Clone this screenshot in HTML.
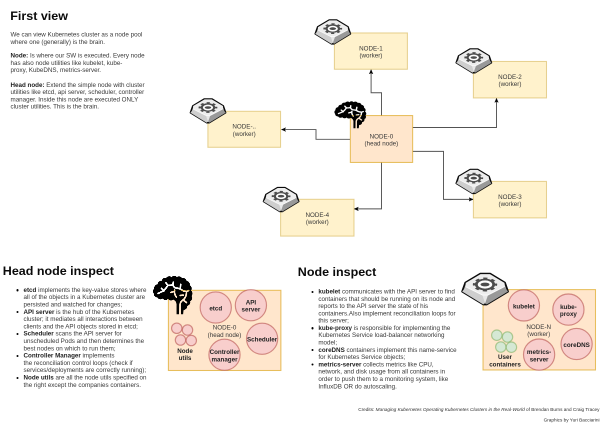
<!DOCTYPE html>
<html lang="en"><head><meta charset="utf-8"><title>Kubernetes cluster: first view</title>
<style>
html,body{margin:0;padding:0;background:#fff;}
body{width:600px;height:427px;overflow:hidden;position:relative;font-family:"Liberation Sans",sans-serif;color:#000;}
/* every panel is laid out at 2x and scaled down by half so that thin strokes and small text are smoothed */
.ly{position:absolute;overflow:hidden;transform:scale(0.5);transform-origin:0 0;will-change:transform;}
.ly>svg{position:absolute;left:0;top:0;}
.t{position:absolute;white-space:nowrap;font-size:12.5px;line-height:14.5px;height:14.5px;color:#383838;}
.t b{color:#1e1e1e;}
.h{position:absolute;white-space:nowrap;font-size:25px;line-height:28px;font-weight:bold;color:#0a0a0a;transform:scaleY(0.955);transform-origin:0 22.2px;}
.c{position:absolute;white-space:nowrap;font-size:9.4px;line-height:12px;color:#2e2e2e;right:1px;}
.b{position:absolute;width:4.2px;height:4.2px;border-radius:50%;background:#000;}
text{font-family:"Liberation Sans",sans-serif;}
</style></head><body>
<svg width="0" height="0" style="position:absolute;left:0;top:0" aria-hidden="true"><defs>
<marker id="ar" viewBox="0 0 10 10" refX="10" refY="5" markerWidth="4.4" markerHeight="4.4" markerUnits="userSpaceOnUse" orient="auto"><path d="M0,0.6 L10,5 L0,9.4 L2.4,5 Z" fill="#000" stroke="#000" stroke-width="0.6" stroke-linejoin="miter"/></marker>
<g id="gs">
<polygon points="39.5,1 60.5,1 92,20 98.5,39 53,66.5 46,66.5 0.8,39 7.5,20" fill="#bdbdbd" stroke="#0a0a0a" stroke-width="4.2" stroke-linejoin="round"/>
<polygon points="0.8,39 8.5,29.5 44,47.5 49.7,62 46,66.5" fill="#cecece"/>
<polygon points="98.5,39 91,29 55.5,47.5 49.7,62 53,66.5" fill="#999"/>
<polygon points="44,47.5 55.5,47.5 49.7,64" fill="#e8e8e8"/>
<polygon points="40,2 60,2 91,20.5 91.5,29 55.5,47.5 44,47.5 8,29.5 8.5,20.5" fill="#ededed"/>
<polygon points="8,29.5 44,47.5 55.5,47.5 91.5,29 91.5,27 55.5,45.2 44,45.2 8,27.5" fill="#fafafa"/>
<g transform="translate(49.5,24.6) scale(1,0.57)" fill="none" stroke="#4c4c4c">
<circle r="15.5" fill="#fdfdfd" stroke="none"/>
<circle r="22.8" stroke-width="6.4" stroke-dasharray="8.954 8.954" stroke-dashoffset="4.477"/>
<circle r="17.3" stroke-width="6.3"/>
<ellipse rx="9" ry="6.4" fill="#4c4c4c" stroke="none"/>
</g>
</g>
<g id="gb">
<polygon points="39.5,1 60.5,1 92,20 98.5,39 53,66.5 46,66.5 0.8,39 7.5,20" fill="#bdbdbd" stroke="#0a0a0a" stroke-width="3.8" stroke-linejoin="round"/>
<polygon points="0.8,39 8.5,29.5 44,47.5 49.7,62 46,66.5" fill="#cecece"/>
<polygon points="98.5,39 91,29 55.5,47.5 49.7,62 53,66.5" fill="#999"/>
<polygon points="44,47.5 55.5,47.5 49.7,64" fill="#e8e8e8"/>
<polygon points="40,2 60,2 91,20.5 91.5,29 55.5,47.5 44,47.5 8,29.5 8.5,20.5" fill="#ededed"/>
<polygon points="8,29.5 44,47.5 55.5,47.5 91.5,29 91.5,27 55.5,45.2 44,45.2 8,27.5" fill="#fafafa"/>
<g transform="translate(49.5,24.0) scale(1,0.57)" fill="none" stroke="#4c4c4c">
<circle r="15.5" fill="#fdfdfd" stroke="none"/>
<circle r="23.2" stroke-width="5.4" stroke-dasharray="9.111 9.111" stroke-dashoffset="4.555"/>
<circle r="18.5" stroke-width="6.2"/>
<ellipse rx="9.6" ry="7.2" fill="#4c4c4c" stroke="none"/>
</g>
</g>
<mask id="bsm" maskUnits="userSpaceOnUse" x="-8" y="-8" width="116" height="110">
<rect x="-8" y="-8" width="116" height="110" fill="#fff"/>
<g fill="none" stroke="#000" stroke-width="4.6" stroke-linecap="round" stroke-linejoin="round">
<path d="M12.7,42.3 L26.6,35.9 Q33,30 38,22 Q44,22 50.6,20.8 Q53,26 57,28.4 Q64,29 69.6,30.9 Q74,34 78.5,35.9 L86.1,37.2 L91.5,35"/>
<path d="M21.5,29.6 L27.8,35.9 M32.9,15.7 L38,22 M51.9,14 L50.6,20.8 M71.2,19.5 L69.3,30.6"/>
<path d="M45.6,39.9 L54.4,37.2 M55.4,34 Q53.5,43.5 59.8,51.5 M69.6,47.3 L77.2,46.4 M86.1,37.2 Q85.5,47 83.3,50.5 Q81,56 77.2,58.7 Q70,63 69.3,70 L69.1,96 M77.2,58.7 L86,65.3"/>
</g></mask>
<g id="bs"><path mask="url(#bsm)" d="M60.3,94.7 L60.3,69 Q59.5,62 52.0,57.5 A9.0,9.0 0 0 1 38.5,56.1 A9.0,9.0 0 0 1 24.8,55.2 A9.0,9.0 0 0 1 11.3,52.5 A9.0,9.0 0 0 1 2.0,43.1 A9.0,9.0 0 0 1 3.0,29.9 A9.0,9.0 0 0 1 11.6,19.3 A9.0,9.0 0 0 1 22.2,10.6 A9.0,9.0 0 0 1 33.7,3.3 A9.0,9.0 0 0 1 47.3,1.4 A9.0,9.0 0 0 1 61.0,1.0 A9.0,9.0 0 0 1 74.3,4.1 A9.0,9.0 0 0 1 86.1,10.9 A9.0,9.0 0 0 1 94.3,21.8 A9.0,9.0 0 0 1 97.4,35.1 A9.0,9.0 0 0 1 98.8,48.7 A9.0,9.0 0 0 1 95.3,61.9 A9.0,9.0 0 0 1 87.7,73.3 A9.0,9.0 0 0 1 78.5,83.4 L77.2,94.7 Z" fill="#000"/></g>
<mask id="bbm" maskUnits="userSpaceOnUse" x="-8" y="-8" width="116" height="110">
<rect x="-8" y="-8" width="116" height="110" fill="#fff"/>
<g fill="none" stroke="#000" stroke-width="4.3" stroke-linecap="round" stroke-linejoin="round">
<path d="M12.7,42.3 L26.6,35.9 Q33,30 38,22 Q44,22 50.6,20.8 Q53,26 57,28.4 Q64,29 69.6,30.9 Q74,34 78.5,35.9 L86.1,37.2 L91.5,35"/>
<path d="M21.5,29.6 L27.8,35.9 M32.9,15.7 L38,22 M51.9,14 L50.6,20.8 M71.2,19.5 L69.3,30.6"/>
<path d="M45.6,39.9 L54.4,37.2 M55.4,34 Q53.5,43.5 59.8,51.5 M69.6,47.3 L77.2,46.4 M86.1,37.2 Q85.5,47 83.3,50.5 Q81,56 77.2,58.7 Q70,63 69.3,70 L69.1,96 M77.2,58.7 L86,65.3"/>
</g></mask>
<g id="bb"><path mask="url(#bbm)" d="M60.3,94.7 L60.3,69 Q59.5,62 52.0,57.5 A9.0,9.0 0 0 1 38.5,56.1 A9.0,9.0 0 0 1 24.8,55.2 A9.0,9.0 0 0 1 11.3,52.5 A9.0,9.0 0 0 1 2.0,43.1 A9.0,9.0 0 0 1 3.0,29.9 A9.0,9.0 0 0 1 11.6,19.3 A9.0,9.0 0 0 1 22.2,10.6 A9.0,9.0 0 0 1 33.7,3.3 A9.0,9.0 0 0 1 47.3,1.4 A9.0,9.0 0 0 1 61.0,1.0 A9.0,9.0 0 0 1 74.3,4.1 A9.0,9.0 0 0 1 86.1,10.9 A9.0,9.0 0 0 1 94.3,21.8 A9.0,9.0 0 0 1 97.4,35.1 A9.0,9.0 0 0 1 98.8,48.7 A9.0,9.0 0 0 1 95.3,61.9 A9.0,9.0 0 0 1 87.7,73.3 A9.0,9.0 0 0 1 78.5,83.4 L77.2,94.7 Z" fill="#000"/></g>
</defs></svg>
<div class="ly" id="T1" style="left:0px;top:0px;width:370px;height:500px">
<div class="h" style="left:20.60px;top:16.80px">First view</div>
<div class="t" style="left:21.00px;top:62.10px">We can view Kubernetes cluster as a node pool</div>
<div class="t" style="left:21.00px;top:76.60px">where one (generally) is the brain.</div>
<div class="t" style="left:21.00px;top:104.10px"><b>Node:</b> Is where our SW is executed. Every node</div>
<div class="t" style="left:21.00px;top:118.60px">has also node utilities like kubelet, kube-</div>
<div class="t" style="left:21.00px;top:133.10px">proxy, KubeDNS, metrics-server.</div>
<div class="t" style="left:21.00px;top:162.60px"><b>Head node:</b> Extend the simple node with cluster</div>
<div class="t" style="left:21.00px;top:177.10px">utilities like etcd, api server, scheduler, controller</div>
<div class="t" style="left:21.00px;top:191.60px">manager. Inside this node are executed ONLY</div>
<div class="t" style="left:21.00px;top:206.10px">cluster utilities. This is the brain.</div>
</div>
<div class="ly" id="T2" style="left:185px;top:0px;width:234px;height:500px">
<svg width="234" height="500" viewBox="185 0 117 250">
<path d="M350,139.3 H316 V129.55 H281.4" fill="none" stroke="#000" stroke-width="0.95" stroke-opacity="0.68" marker-end="url(#ar)"/>
<rect x="207.9" y="111.3" width="72.65" height="36.0" fill="#fff2cc" stroke="#d6b656" stroke-width="1.05" stroke-opacity="0.6"/>
<rect x="280.6" y="199.3" width="73.4" height="36.8" fill="#fff2cc" stroke="#d6b656" stroke-width="1.05" stroke-opacity="0.6"/>
<use href="#gs" transform="translate(190.10,98.60) scale(0.3610,0.3632)"/>
<text x="244.22500000000002" y="128.55" font-size="6.25" text-anchor="middle" fill="#383838">NODE-..</text>
<text x="244.22500000000002" y="135.80" font-size="6.25" text-anchor="middle" fill="#383838">(worker)</text>
<use href="#gs" transform="translate(263.20,187.30) scale(0.3610,0.3632)"/>
</svg>
</div>
<div class="ly" id="T3" style="left:302px;top:0px;width:510px;height:500px">
<svg width="510" height="500" viewBox="302 0 255 250">
<path d="M350,139.3 H316 V129.55 H281.4" fill="none" stroke="#000" stroke-width="0.95" stroke-opacity="0.68" marker-end="url(#ar)"/>
<path d="M381.5,115.5 V92.75 H371.1 V69.6" fill="none" stroke="#000" stroke-width="0.95" stroke-opacity="0.68" marker-end="url(#ar)"/>
<path d="M412.75,127.5 H496.5 V98.2" fill="none" stroke="#000" stroke-width="0.95" stroke-opacity="0.68" marker-end="url(#ar)"/>
<path d="M412.75,151.4 H443.5 V199.4 H473.2" fill="none" stroke="#000" stroke-width="0.95" stroke-opacity="0.68" marker-end="url(#ar)"/>
<path d="M381.5,162.5 V208.9 H354.1" fill="none" stroke="#000" stroke-width="0.95" stroke-opacity="0.68" marker-end="url(#ar)"/>
<rect x="334.4" y="32.95" width="73" height="36.3" fill="#fff2cc" stroke="#d6b656" stroke-width="1.05" stroke-opacity="0.6"/>
<rect x="473.4" y="61.45" width="73.1" height="36.5" fill="#fff2cc" stroke="#d6b656" stroke-width="1.05" stroke-opacity="0.6"/>
<rect x="473.4" y="181.4" width="73.1" height="36.5" fill="#fff2cc" stroke="#d6b656" stroke-width="1.05" stroke-opacity="0.6"/>
<rect x="280.6" y="199.3" width="73.4" height="36.8" fill="#fff2cc" stroke="#d6b656" stroke-width="1.05" stroke-opacity="0.6"/>
<use href="#gs" transform="translate(314.90,19.70) scale(0.3610,0.3632)"/>
<text x="370.9" y="50.35" font-size="6.25" text-anchor="middle" fill="#383838">NODE-1</text>
<text x="370.9" y="57.60" font-size="6.25" text-anchor="middle" fill="#383838">(worker)</text>
<use href="#gs" transform="translate(455.90,48.60) scale(0.3610,0.3632)"/>
<text x="509.95" y="78.95" font-size="6.25" text-anchor="middle" fill="#383838">NODE-2</text>
<text x="509.95" y="86.20" font-size="6.25" text-anchor="middle" fill="#383838">(worker)</text>
<use href="#gs" transform="translate(455.90,169.20) scale(0.3610,0.3632)"/>
<text x="509.95" y="198.90" font-size="6.25" text-anchor="middle" fill="#383838">NODE-3</text>
<text x="509.95" y="206.15" font-size="6.25" text-anchor="middle" fill="#383838">(worker)</text>
<text x="317.3" y="216.95" font-size="6.25" text-anchor="middle" fill="#383838">NODE-4</text>
<text x="317.3" y="224.20" font-size="6.25" text-anchor="middle" fill="#383838">(worker)</text>
<rect x="350.35" y="115.55" width="62.3" height="46.9" fill="#ffe6cc" stroke="#d79b00" stroke-width="1.05" stroke-opacity="0.6"/>
<text x="381.4" y="138.45" font-size="6.25" text-anchor="middle" fill="#383838">NODE-0</text>
<text x="381.4" y="145.70" font-size="6.25" text-anchor="middle" fill="#383838">(head node)</text>
<use href="#bs" transform="translate(334.50,101.80) scale(0.3140,0.2788)"/>
</svg>
</div>
<div class="ly" id="B1" style="left:0px;top:250px;width:300px;height:300px">
<div class="h" style="left:5.60px;top:27.20px">Head node inspect</div>
<div class="b" style="left:32.70px;top:78.40px"></div>
<div class="t" style="left:47.00px;top:72.90px"><b>etcd</b> implements the key-value stores where</div>
<div class="t" style="left:47.00px;top:87.49px">all of the objects in a Kubernetes cluster are</div>
<div class="t" style="left:47.00px;top:102.08px">persisted and watched for changes;</div>
<div class="b" style="left:32.70px;top:122.18px"></div>
<div class="t" style="left:47.00px;top:116.68px"><b>API server</b> is the hub of the Kubernetes</div>
<div class="t" style="left:47.00px;top:131.27px">cluster; it mediates all interactions between</div>
<div class="t" style="left:47.00px;top:145.86px">clients and the API objects stored in etcd;</div>
<div class="b" style="left:32.70px;top:165.95px"></div>
<div class="t" style="left:47.00px;top:160.45px"><b>Scheduler</b> scans the API server for</div>
<div class="t" style="left:47.00px;top:175.04px">unscheduled Pods and then determines the</div>
<div class="t" style="left:47.00px;top:189.64px">best nodes on which to run them;</div>
<div class="b" style="left:32.70px;top:209.73px"></div>
<div class="t" style="left:47.00px;top:204.23px"><b>Controller Manager</b> implements</div>
<div class="t" style="left:47.00px;top:218.82px">the reconciliation control loops (check if</div>
<div class="t" style="left:47.00px;top:233.41px">services/deployments are correctly running);</div>
<div class="b" style="left:32.70px;top:253.50px"></div>
<div class="t" style="left:47.00px;top:248.00px"><b>Node utils</b> are all the node utils specified on</div>
<div class="t" style="left:47.00px;top:262.60px">the right except the companies containers.</div>
</div>
<div class="ly" id="B2" style="left:150px;top:250px;width:290px;height:300px">
<svg width="290" height="300" viewBox="150 250 145 150">
<rect x="168.4" y="290.3" width="112.5" height="80.2" fill="#ffe6cc" stroke="#d79b00" stroke-width="1.05" stroke-opacity="0.6"/>
<circle cx="215.75" cy="307.5" r="15.6" fill="#f8cecc" stroke="#b85450" stroke-width="1.15" stroke-opacity="0.62"/>
<text x="215.75" y="310.45" font-size="6.25" text-anchor="middle" fill="#222" font-weight="bold">etcd</text>
<circle cx="250.9" cy="305.25" r="15.6" fill="#f8cecc" stroke="#b85450" stroke-width="1.15" stroke-opacity="0.62"/>
<text x="250.9" y="304.45" font-size="6.25" text-anchor="middle" fill="#222" font-weight="bold">API</text>
<text x="250.9" y="311.70" font-size="6.25" text-anchor="middle" fill="#222" font-weight="bold">server</text>
<circle cx="262.1" cy="338.75" r="15.6" fill="#f8cecc" stroke="#b85450" stroke-width="1.15" stroke-opacity="0.62"/>
<text x="262.1" y="341.65" font-size="6.25" text-anchor="middle" fill="#222" font-weight="bold">Scheduler</text>
<circle cx="224.5" cy="354.75" r="15.6" fill="#f8cecc" stroke="#b85450" stroke-width="1.15" stroke-opacity="0.62"/>
<text x="224.5" y="354.15" font-size="6.25" text-anchor="middle" fill="#222" font-weight="bold">Controller</text>
<text x="224.5" y="361.40" font-size="6.25" text-anchor="middle" fill="#222" font-weight="bold">manager</text>
<circle cx="176.75" cy="328.25" r="5.2" fill="#f8cecc" stroke="#b85450" stroke-width="1.15" stroke-opacity="0.62"/>
<circle cx="187.5" cy="330" r="5.2" fill="#f8cecc" stroke="#b85450" stroke-width="1.15" stroke-opacity="0.62"/>
<circle cx="180.5" cy="340" r="5.2" fill="#f8cecc" stroke="#b85450" stroke-width="1.15" stroke-opacity="0.62"/>
<circle cx="191.25" cy="340.5" r="5.2" fill="#f8cecc" stroke="#b85450" stroke-width="1.15" stroke-opacity="0.62"/>
<text x="185" y="352.85" font-size="6.25" text-anchor="middle" fill="#222" font-weight="bold">Node</text>
<text x="185" y="360.10" font-size="6.25" text-anchor="middle" fill="#222" font-weight="bold">utils</text>
<text x="224.5" y="329.55" font-size="6.25" text-anchor="middle" fill="#383838">NODE-0</text>
<text x="224.5" y="336.80" font-size="6.25" text-anchor="middle" fill="#383838">(head node)</text>
<use href="#bb" transform="translate(153.10,276.60) scale(0.3890,0.3981)"/>
</svg>
</div>
<div class="ly" id="B3" style="left:295px;top:250px;width:330px;height:300px">
<div class="h" style="left:5.60px;top:29.30px">Node inspect</div>
<div class="b" style="left:32.70px;top:81.50px"></div>
<div class="t" style="left:46.70px;top:76.00px"><b>kubelet</b> communicates with the API server to find</div>
<div class="t" style="left:46.70px;top:90.58px">containers that should be running on its node and</div>
<div class="t" style="left:46.70px;top:105.16px">reports to the API server the state of his</div>
<div class="t" style="left:46.70px;top:119.74px">containers.Also implement reconciliation loops for</div>
<div class="t" style="left:46.70px;top:134.32px">this server;</div>
<div class="b" style="left:32.70px;top:154.40px"></div>
<div class="t" style="left:46.70px;top:148.90px"><b>kube-proxy</b> is responsible for implementing the</div>
<div class="t" style="left:46.70px;top:163.48px">Kubernetes Service load-balancer networking</div>
<div class="t" style="left:46.70px;top:178.06px">model;</div>
<div class="b" style="left:32.70px;top:198.14px"></div>
<div class="t" style="left:46.70px;top:192.64px"><b>coreDNS</b> containers implement this name-service</div>
<div class="t" style="left:46.70px;top:207.22px">for Kubernetes Service objects;</div>
<div class="b" style="left:32.70px;top:227.30px"></div>
<div class="t" style="left:46.70px;top:221.80px"><b>metrics-server</b> collects metrics like CPU,</div>
<div class="t" style="left:46.70px;top:236.38px">network, and disk usage from all containers in</div>
<div class="t" style="left:46.70px;top:250.96px">order to push them to a monitoring system, like</div>
<div class="t" style="left:46.70px;top:265.54px">InfluxDB OR do autoscaling.</div>
</div>
<div class="ly" id="B4" style="left:460px;top:250px;width:280px;height:300px">
<svg width="280" height="300" viewBox="460 250 140 150">
<rect x="483" y="289.6" width="112.5" height="80.4" fill="#ffe6cc" stroke="#d79b00" stroke-width="1.05" stroke-opacity="0.6"/>
<circle cx="523.9" cy="305.4" r="15.6" fill="#f8cecc" stroke="#b85450" stroke-width="1.15" stroke-opacity="0.62"/>
<text x="523.9" y="308.35" font-size="6.25" text-anchor="middle" fill="#222" font-weight="bold">kubelet</text>
<circle cx="568.4" cy="309.6" r="15.6" fill="#f8cecc" stroke="#b85450" stroke-width="1.15" stroke-opacity="0.62"/>
<text x="568.4" y="308.95" font-size="6.25" text-anchor="middle" fill="#222" font-weight="bold">kube-</text>
<text x="568.4" y="316.20" font-size="6.25" text-anchor="middle" fill="#222" font-weight="bold">proxy</text>
<circle cx="576.6" cy="344" r="15.6" fill="#f8cecc" stroke="#b85450" stroke-width="1.15" stroke-opacity="0.62"/>
<text x="576.6" y="346.95" font-size="6.25" text-anchor="middle" fill="#222" font-weight="bold">coreDNS</text>
<circle cx="539.1" cy="354.6" r="15.6" fill="#f8cecc" stroke="#b85450" stroke-width="1.15" stroke-opacity="0.62"/>
<text x="539.1" y="354.05" font-size="6.25" text-anchor="middle" fill="#222" font-weight="bold">metrics-</text>
<text x="539.1" y="361.30" font-size="6.25" text-anchor="middle" fill="#222" font-weight="bold">server</text>
<circle cx="496.8" cy="335.2" r="5.2" fill="#d5e8d4" stroke="#82b366" stroke-width="1.15" stroke-opacity="0.62"/>
<circle cx="507.5" cy="337" r="5.2" fill="#d5e8d4" stroke="#82b366" stroke-width="1.15" stroke-opacity="0.62"/>
<circle cx="500.8" cy="347" r="5.2" fill="#d5e8d4" stroke="#82b366" stroke-width="1.15" stroke-opacity="0.62"/>
<circle cx="511.4" cy="347.2" r="5.2" fill="#d5e8d4" stroke="#82b366" stroke-width="1.15" stroke-opacity="0.62"/>
<text x="505" y="359.05" font-size="6.25" text-anchor="middle" fill="#222" font-weight="bold">User</text>
<text x="505" y="366.30" font-size="6.25" text-anchor="middle" fill="#222" font-weight="bold">containers</text>
<text x="538.75" y="328.85" font-size="6.25" text-anchor="middle" fill="#383838">NODE-N</text>
<text x="538.75" y="336.10" font-size="6.25" text-anchor="middle" fill="#383838">(worker)</text>
<use href="#gb" transform="translate(461.75,273.20) scale(0.4700,0.4706)"/>
</svg>
</div>
<div class="ly" id="B5" style="left:345px;top:400px;width:510px;height:54px">
<div class="c" style="top:12.80px">Credits: <i>Managing Kubernetes Operating Kubernetes Clusters in the Real-World</i> of Brendan Burns and Craig Tracey</div>
<div class="c" style="top:34.00px">Graphics by Yuri Bacciarini</div>
</div>
</body></html>
